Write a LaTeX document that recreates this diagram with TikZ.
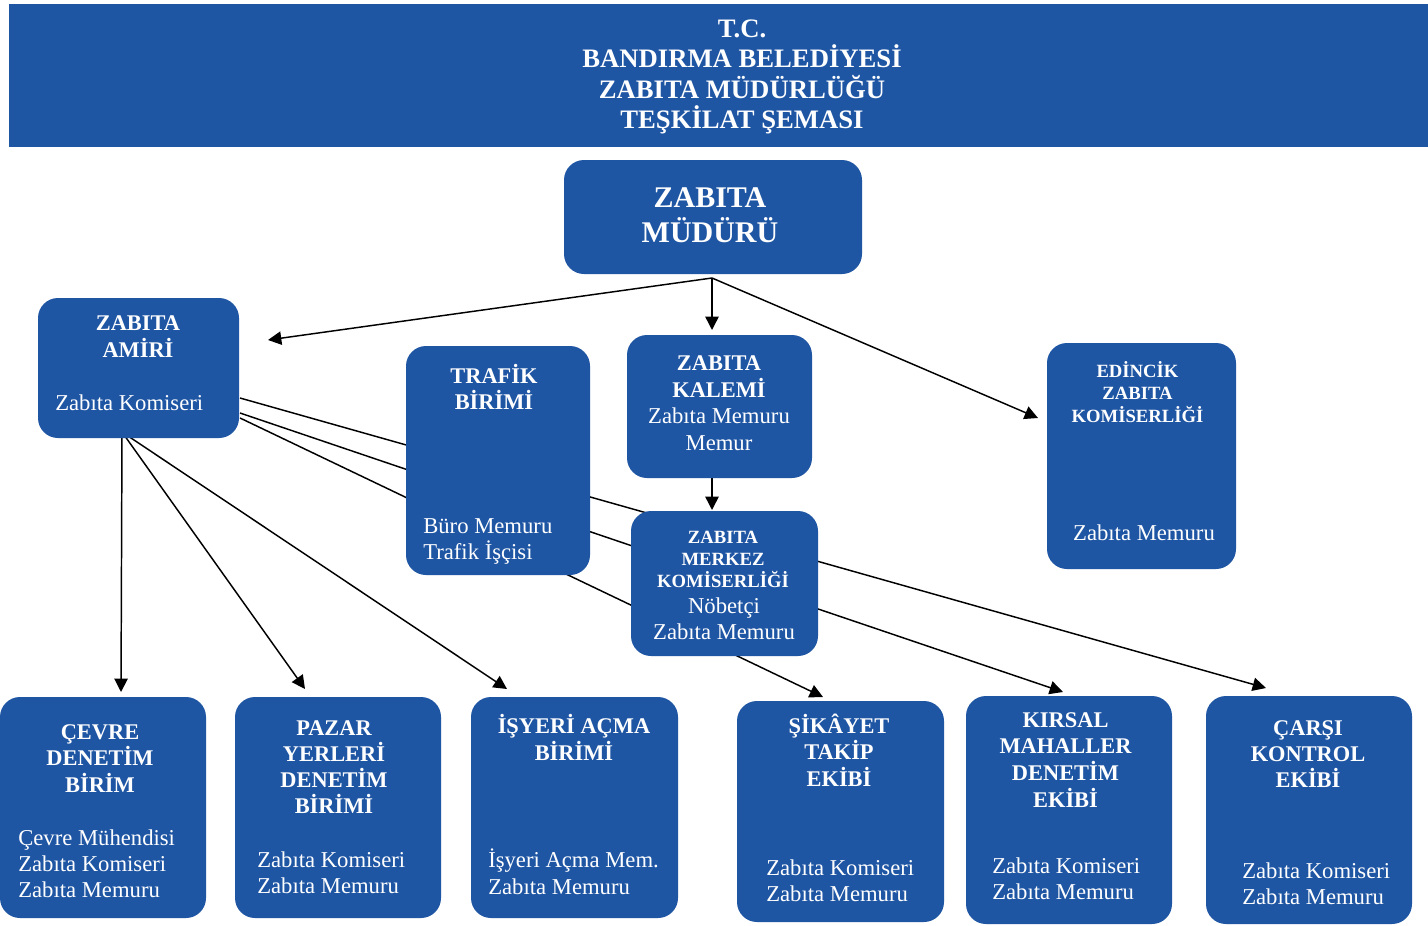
\documentclass[tikz,border=0pt]{standalone}
\usepackage{fontspec}
\setmainfont{Liberation Serif}
\usetikzlibrary{arrows.meta}
\definecolor{boxblue}{RGB}{31,86,164}
\pgfdeclarelayer{back}
\pgfdeclarelayer{bg}
\pgfsetlayers{back,bg,main}
\newcommand\mklines[6]{\foreach \t [count=\i] in {#6} {\node[#1] (#2-\i) at (#3, {#4+(\i-1)*#5}) {\t};}}
\begin{document}
\begin{tikzpicture}[x=0.75pt,y=-0.75pt,
  box/.style 2 args={fill=boxblue, rounded corners=15pt, minimum width=#1, minimum height=#2, inner sep=0pt, outer sep=0pt},
  txt/.style={text=white, inner sep=0pt, anchor=base},
  hd/.style={txt, font=\bfseries\fontsize{20}{24}\selectfont},
  md/.style={txt, font=\bfseries\fontsize{22.5}{27}\selectfont},
  ttl/.style={txt, font=\bfseries\fontsize{16.8}{20}\selectfont},
  sm/.style={txt, font=\bfseries\fontsize{14}{17}\selectfont},
  bd/.style={txt, font=\fontsize{17}{20}\selectfont},
  bdl/.style={bd, anchor=base west},
  conn/.style={line width=1.1pt, -{Triangle[length=10pt,width=10pt]}}]
\useasboundingbox (0,0) rectangle (1428,925);
\begin{pgfonlayer}{back}
\fill[white] (0,0) rectangle (1428,925);
\end{pgfonlayer}

% banner
\node[fill=boxblue, minimum width=1064.25pt, minimum height=107.25pt, inner sep=0pt, outer sep=0pt] (banner) at (718.5,75.5) {};
\mklines{hd}{hdr}{742}{37}{30.5}{T.C.,BANDIRMA BELEDİYESİ,ZABITA MÜDÜRLÜĞÜ,TEŞKİLAT ŞEMASI}

% boxes
\node[box={223.5pt}{85.5pt}] (mud) at (713,217) {};
\node[box={150.75pt}{105pt}] (amiri) at (138.5,368) {};
\node[box={138pt}{171.75pt}] (trafik) at (498,460.5) {};
\node[box={138.75pt}{107.25pt}] (kalem) at (719.5,406.5) {};
\node[box={140.25pt}{108.75pt}] (merkez) at (724.5,583.5) {};
\node[box={141.75pt}{169.5pt}] (edincik) at (1141.5,456) {};
\node[box={154.5pt}{165.75pt}] (cevre) at (103,807.5) {};
\node[box={154.5pt}{165.75pt}] (pazar) at (338,807.5) {};
\node[box={155.25pt}{165.75pt}] (isyeri) at (574.5,807.5) {};
\node[box={155.25pt}{165.75pt}] (sikayet) at (840.5,811.5) {};
\node[box={154.5pt}{171pt}] (kirsal) at (1069,810) {};
\node[box={154.5pt}{171pt}] (carsi) at (1309,810) {};

% texts
\mklines{md}{mudt}{710}{207}{35}{ZABITA,MÜDÜRÜ}
\mklines{ttl}{amt}{138}{330}{27}{ZABITA,AMİRİ}
\node[bdl] (amb) at (55,410) {Zabıta Komiseri};
\mklines{ttl}{trt}{494}{383}{26}{TRAFİK,BİRİMİ}
\mklines{bdl}{trb}{423}{533}{26}{Büro Memuru,Trafik İşçisi}
\mklines{ttl}{kat}{719}{370}{27}{ZABITA,KALEMİ}
\mklines{bd}{kab}{719}{423.5}{26.5}{Zabıta Memuru,Memur}
\mklines{sm}{met}{723}{543}{22}{ZABITA,MERKEZ,KOMİSERLİĞİ}
\mklines{bd}{meb}{724}{613}{26}{Nöbetçi,Zabıta Memuru}
\mklines{sm}{edt}{1137.5}{377}{22.5}{EDİNCİK,ZABITA,KOMİSERLİĞİ}
\node[bd] (edb) at (1144,540) {Zabıta Memuru};
\mklines{ttl}{cet}{100}{739}{26.5}{ÇEVRE,DENETİM,BİRİM}
\mklines{bdl}{ceb}{18}{845}{26}{Çevre Mühendisi,Zabıta Komiseri,Zabıta Memuru}
\mklines{ttl}{pat}{334}{735}{26}{PAZAR,YERLERİ,DENETİM,BİRİMİ}
\mklines{bdl}{pab}{257}{867}{26}{Zabıta Komiseri,Zabıta Memuru}
\mklines{ttl}{ist}{574}{733}{27}{İŞYERİ AÇMA,BİRİMİ}
\mklines{bdl}{isb}{488}{867}{27}{İşyeri Açma Mem.,Zabıta Memuru}
\mklines{ttl}{sit}{839}{733}{26.5}{ŞİKÂYET,TAKİP,EKİBİ}
\mklines{bdl}{sib}{766}{875}{26}{Zabıta Komiseri,Zabıta Memuru}
\mklines{ttl}{kit}{1065.5}{727}{26.7}{KIRSAL,MAHALLER,DENETİM,EKİBİ}
\mklines{bdl}{kib}{992}{873}{26}{Zabıta Komiseri,Zabıta Memuru}
\mklines{ttl}{cat}{1308}{735}{26}{ÇARŞI,KONTROL,EKİBİ}
\mklines{bdl}{cab}{1242}{878}{26}{Zabıta Komiseri,Zabıta Memuru}

% connector ends
\coordinate (mudo) at (712,278);
\coordinate (amTip) at (268,340);
\coordinate (kaTip) at (712,330);
\coordinate (edTip) at (1038,418);
\coordinate (kao) at (712,478);
\coordinate (meTip) at (712,510);
\coordinate (amB) at (122,432);
\coordinate (amR1) at (240,398);
\coordinate (amR2) at (240,413);
\coordinate (amR3) at (240,418);
\coordinate (ceTip) at (121,692);
\coordinate (paTip) at (305,689);
\coordinate (isTip) at (507,689);
\coordinate (siTip) at (823,697);
\coordinate (kiTip) at (1063,692);
\coordinate (caTip) at (1266,688);

\begin{pgfonlayer}{bg}
\draw[conn] (mudo) -- (amTip);
\draw[conn] (mudo) -- (kaTip);
\draw[conn] (mudo) -- (edTip);
\draw[conn] (kao) -- (meTip);
\draw[conn] (amB) -- (ceTip);
\draw[conn] (amB) -- (paTip);
\draw[conn] (amB) -- (isTip);
\draw[conn] (amR1) -- (caTip);
\draw[conn] (amR2) -- (kiTip);
\draw[conn] (amR3) -- (siTip);
\end{pgfonlayer}
\end{tikzpicture}
\end{document}
